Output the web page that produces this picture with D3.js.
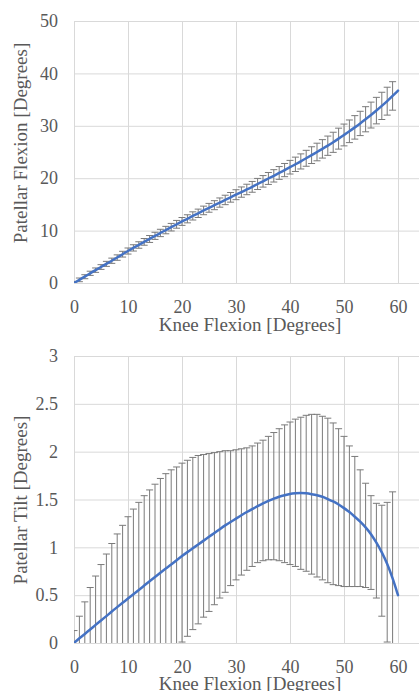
<!DOCTYPE html>
<html>
<head>
<meta charset="utf-8">
<script src="https://cdn.jsdelivr.net/npm/d3@7"></script>
<style>
  body { margin: 0; background: #fff; }
  svg { display: block; }
  text { font-family: "Liberation Serif", "Times New Roman", serif; }
</style>
</head>
<body>
<div id="chart"></div>
<script>
// knee flexion angle (deg) for every sample
var knee = [0,1,2,3,4,5,6,7,8,9,10,11,12,13,14,15,16,17,18,19,20,
            21,22,23,24,25,26,27,28,29,30,31,32,33,34,35,36,37,38,39,40,
            41,42,43,44,45,46,47,48,49,50,51,52,53,54,55,56,57,58,59,60];

// patellar flexion mean + sd (deg)
var flexMean = [0.0,0.6,1.2,1.85,2.45,3.05,3.65,4.25,4.85,5.5,6.1,6.7,7.25,7.85,8.4,9.0,9.55,10.1,10.65,11.2,11.75,
                12.25,12.8,13.3,13.85,14.35,14.85,15.35,15.85,16.35,16.85,17.35,17.85,18.35,18.9,19.4,19.95,20.45,21.0,21.55,22.1,
                22.65,23.2,23.8,24.4,25.0,25.6,26.2,26.85,27.55,28.25,28.95,29.7,30.45,31.25,32.05,32.9,33.8,34.7,35.7,36.7];
var flexSD = [0.3,0.35,0.38,0.4,0.42,0.45,0.48,0.5,0.52,0.55,0.58,0.6,0.62,0.64,0.66,0.68,0.7,0.71,0.72,0.74,0.75,
              0.77,0.78,0.8,0.82,0.84,0.86,0.88,0.9,0.92,0.95,0.98,1.0,1.03,1.06,1.1,1.14,1.18,1.22,1.26,1.3,
              1.37,1.44,1.52,1.6,1.68,1.76,1.84,1.92,2.0,2.08,2.16,2.24,2.32,2.4,2.47,2.53,2.6,2.66,2.72,0];

// patellar tilt mean line + error bar ends (deg)
var tiltMean = [0.00,0.05,0.095,0.14,0.19,0.235,0.28,0.33,0.375,0.42,0.465,0.51,0.555,0.60,0.645,0.69,0.735,0.78,0.82,0.865,0.91,
                0.95,0.99,1.03,1.07,1.11,1.15,1.19,1.23,1.265,1.30,1.335,1.37,1.40,1.43,1.46,1.485,1.51,1.53,1.545,1.56,
                1.565,1.57,1.565,1.555,1.545,1.53,1.505,1.48,1.45,1.41,1.37,1.32,1.27,1.21,1.14,1.05,0.95,0.83,0.68,0.50];
var tiltHigh = [0.13,0.28,0.43,0.58,0.70,0.82,0.93,1.04,1.14,1.23,1.32,1.40,1.47,1.54,1.60,1.66,1.72,1.77,1.81,1.84,1.88,
                1.91,1.94,1.96,1.97,1.98,1.99,2.00,2.01,2.01,2.02,2.03,2.04,2.06,2.09,2.12,2.16,2.20,2.24,2.28,2.31,
                2.34,2.36,2.38,2.39,2.39,2.37,2.35,2.30,2.24,2.16,2.06,1.95,1.81,1.67,1.54,1.46,1.44,1.47,1.58];
var tiltLow = [-0.13,-0.18,-0.24,-0.30,-0.32,-0.34,-0.37,-0.38,-0.38,-0.37,-0.38,-0.36,-0.35,-0.32,-0.28,-0.26,-0.24,-0.19,-0.15,-0.08,0.01,
               0.07,0.14,0.20,0.27,0.33,0.40,0.47,0.53,0.60,0.66,0.71,0.76,0.80,0.84,0.86,0.87,0.87,0.86,0.84,0.82,
               0.80,0.77,0.75,0.72,0.69,0.66,0.63,0.61,0.60,0.59,0.59,0.59,0.59,0.58,0.56,0.47,0.28,0.01,-0.05];

var xTicks = [0,10,20,30,40,50,60];
var flexTicks = [0,10,20,30,40,50];
var tiltTicks = [0,0.5,1,1.5,2,2.5,3];

var W = 419, H = 691;
var gridColor = "#d9d9d9";
var textColor = "#595959";
var lineColor = "#4472c4";
var barColor = "#7a7a7a";

var svg = d3.select("#chart")
  .append("svg")
    .attr("width", W)
    .attr("height", H);

function drawPanel(opt) {
    var x = d3.scaleLinear().domain([0, 70]).range([74, 452]);
    var y = d3.scaleLinear().domain(opt.yDomain).range([opt.bottom, opt.top]);
    var g = svg.append("g");

    // vertical grid + x labels
    g.append("g")
        .attr("transform", "translate(0," + opt.bottom + ")")
        .call(d3.axisBottom(x).tickValues(xTicks).tickSize(-(opt.bottom - opt.top)).tickPadding(17))
        .call(function (a) { a.select(".domain").remove(); });

    // horizontal grid + y labels
    g.append("g")
        .attr("transform", "translate(74,0)")
        .call(d3.axisLeft(y).tickValues(opt.yTicks).tickSize(-(452 - 74)).tickPadding(16)
              .tickFormat(function (d) { return String(d); }))
        .call(function (a) { a.select(".domain").remove(); });

    g.selectAll(".tick line").attr("stroke", gridColor).attr("stroke-width", 1);
    g.selectAll(".tick text")
        .attr("fill", textColor)
        .style("font-size", "18px");

    var clipId = "clip" + opt.top;
    g.append("clipPath").attr("id", clipId)
      .append("rect")
        .attr("x", 74).attr("y", opt.top)
        .attr("width", 452 - 74).attr("height", opt.bottom - opt.top);

    var plot = g.append("g").attr("clip-path", "url(#" + clipId + ")");

    // error bars
    var bars = plot.append("g").selectAll("g")
        .data(opt.errs.filter(function (d) { return d.hi !== d.lo; }))
        .enter().append("g")
        .attr("stroke", barColor)
        .attr("stroke-width", 1);
    bars.append("line")
        .attr("x1", function (d) { return x(d.k); })
        .attr("x2", function (d) { return x(d.k); })
        .attr("y1", function (d) { return y(d.hi); })
        .attr("y2", function (d) { return y(d.lo); });
    bars.append("line")
        .attr("x1", function (d) { return x(d.k) - 3.5; })
        .attr("x2", function (d) { return x(d.k) + 3.5; })
        .attr("y1", function (d) { return y(d.hi); })
        .attr("y2", function (d) { return y(d.hi); });
    bars.append("line")
        .attr("x1", function (d) { return x(d.k) - 3.5; })
        .attr("x2", function (d) { return x(d.k) + 3.5; })
        .attr("y1", function (d) { return y(d.lo); })
        .attr("y2", function (d) { return y(d.lo); });

    // mean curve
    var line = d3.line()
        .x(function (d, i) { return x(knee[i]); })
        .y(function (d) { return y(d); })
        .curve(d3.curveBasis);
    plot.append("path")
        .datum(opt.mean)
        .attr("fill", "none")
        .attr("stroke", lineColor)
        .attr("stroke-width", 2.5)
        .attr("stroke-linecap", "round")
        .attr("d", line);

    // axis titles
    g.append("text")
        .attr("x", 250)
        .attr("y", opt.xTitleY)
        .attr("text-anchor", "middle")
        .attr("fill", textColor)
        .style("font-size", "19px")
        .text("Knee Flexion [Degrees]");

    g.append("text")
        .attr("transform", "translate(27," + opt.yTitleMid + ") rotate(-90)")
        .attr("text-anchor", "middle")
        .attr("fill", textColor)
        .style("font-size", "19px")
        .text(opt.yTitle);
}

var flexErrs = knee.slice(0, 60).map(function (k, i) {
    return {k: k, hi: flexMean[i] + flexSD[i], lo: flexMean[i] - flexSD[i]};
});
var tiltErrs = knee.slice(0, 60).map(function (k, i) {
    return {k: k, hi: tiltHigh[i], lo: tiltLow[i]};
});

drawPanel({
    top: 21, bottom: 283, yDomain: [0, 50], yTicks: flexTicks,
    mean: flexMean, errs: flexErrs,
    xTitleY: 331, yTitle: "Patellar Flexion [Degrees]", yTitleMid: 143
});

drawPanel({
    top: 356, bottom: 643, yDomain: [0, 3], yTicks: tiltTicks,
    mean: tiltMean, errs: tiltErrs,
    xTitleY: 690, yTitle: "Patellar Tilt [Degrees]", yTitleMid: 500
});
</script>
</body>
</html>
